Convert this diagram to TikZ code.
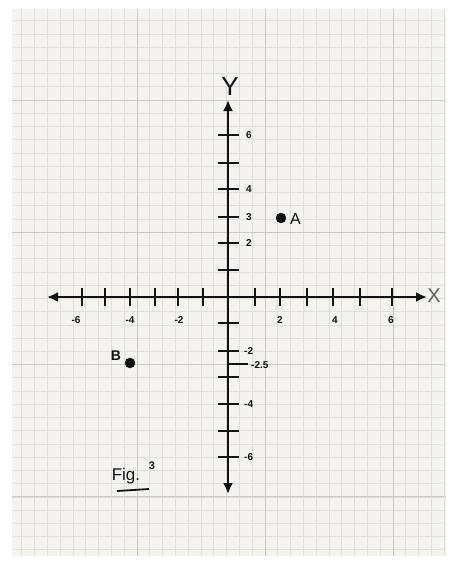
\documentclass[tikz,border=0pt]{standalone}
\usepackage{fontspec}
\setmainfont{Liberation Sans}
\usetikzlibrary{arrows.meta}
\definecolor{paper}{RGB}{245,243,239}
\definecolor{gridminor}{RGB}{224,222,218}
\definecolor{gridmajor}{RGB}{203,201,197}
\definecolor{ink}{RGB}{18,18,18}
\tikzset{
  axisline/.style={ink, line width=2.6pt, {Latex[length=11pt,width=10pt]}-{Latex[length=11pt,width=10pt]}},
  tickline/.style={ink, line width=2.2pt},
  numlabel/.style={ink, font=\fontsize{10}{11}\selectfont\bfseries, inner sep=0pt},
  letterlabel/.style={ink, inner sep=0pt},
  dotpoint/.style={circle, fill=ink, draw=ink, inner sep=0pt, minimum size=10pt}
}
\begin{document}
\begin{tikzpicture}[x=1pt,y=-1pt]
\useasboundingbox (0,0) rectangle (453,563);
\fill[white] (0,0) rectangle (453,563);
\fill[paper] (12,9) rectangle (446,556);
\begin{scope}
  \clip (12,9) rectangle (446,556);
  \foreach \i in {-11,...,25} \draw[gridminor, line width=0.7pt] ({137+12.8*\i},9) -- ({137+12.8*\i},556);
  \foreach \j in {-7,...,35} \draw[gridminor, line width=0.7pt] (12,{100+13.23*\j}) -- (446,{100+13.23*\j});
  \foreach \k in {-1,...,2} \draw[gridmajor, line width=1pt] ({137+128*\k},9) -- ({137+128*\k},556);
  \foreach \k in {0,...,3} \draw[gridmajor, line width=1pt] (12,{100+132.3*\k}) -- (446,{100+132.3*\k});
\end{scope}

% axes
\coordinate (xl) at (47,297);
\coordinate (xr) at (427,297);
\coordinate (yt) at (228,100);
\coordinate (yb) at (228,494);
\draw[axisline] (xl) -- (xr);
\draw[axisline] (yb) -- (yt);
\node[letterlabel, font=\fontsize{20}{22}\selectfont, text=gray!70!ink] (xlab) at (434,296) {X};
\node[letterlabel, font=\fontsize{26}{28}\selectfont] (ylab) at (230,87) {Y};

% x ticks
\foreach \x in {82,105,130,155,178,203,255,280,307,333,360,392}
  \draw[tickline] (\x,288) -- (\x,306);
\foreach \x/\t in {76/-6,130/-4,179/-2,280/2,335/4,391/6}
  \node[numlabel] (xt\t) at (\x,320) {\t};

% y ticks
\foreach \y in {135,163,189,217,243,270,323,351,377,404,431,457}
  \draw[tickline] (218,\y) -- (239,\y);
\draw[tickline] (228,364) -- (248,364);
\foreach \y/\t in {135/6,189/4,217/3,243/2}
  \node[numlabel, anchor=west] (yt\t) at (246,\y) {\t};
\foreach \y/\t in {351/-2,404/-4,457/-6}
  \node[numlabel, anchor=west] (yt\t) at (244,\y) {\t};
\node[numlabel, anchor=west] (yt-2.5) at (251,365) {-2.5};

% points
\node[dotpoint] (A) at (281,218) {};
\node[letterlabel, font=\fontsize{16}{18}\selectfont, anchor=west] (Alab) at (290,219) {A};
\node[dotpoint] (B) at (130,363) {};
\node[letterlabel, font=\fontsize{14}{16}\selectfont\bfseries] (Blab) at (116,356) {B};

% caption
\node[letterlabel, font=\fontsize{17}{19}\selectfont] (fig) at (126,476) {Fig.};
\node[letterlabel, font=\fontsize{11}{12}\selectfont\bfseries] (figsup) at (152,466) {3};
\coordinate (ul1) at (117,491);
\coordinate (ul2) at (149,489);
\draw[ink, line width=1.8pt] (ul1) -- (ul2);
\end{tikzpicture}
\end{document}
